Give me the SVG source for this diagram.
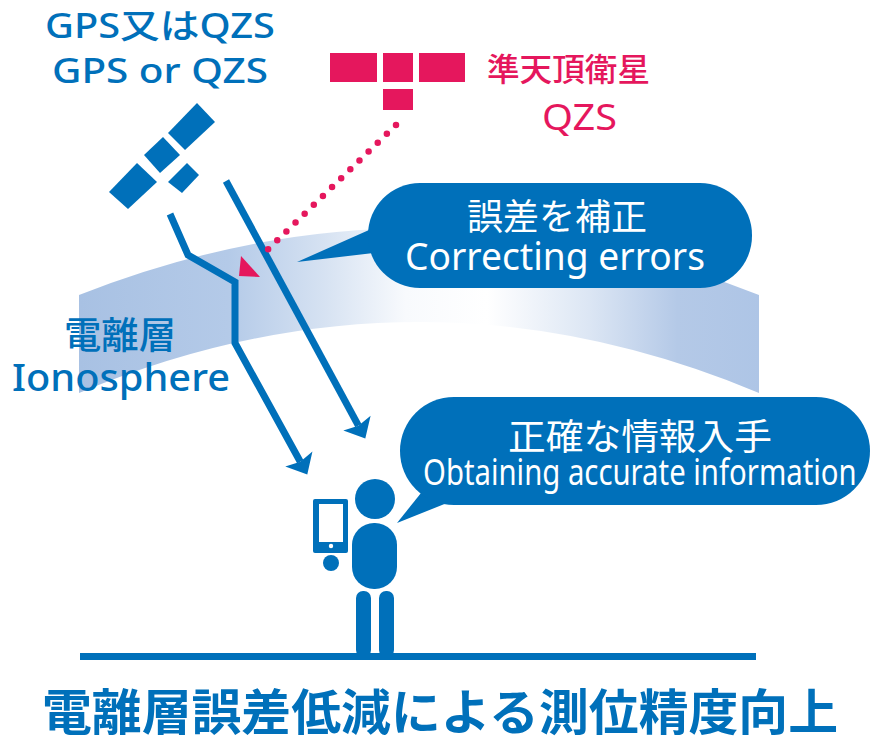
<svg xmlns="http://www.w3.org/2000/svg" width="875" height="741" viewBox="0 0 875 741">
  <style>
    .blue { fill: #0070BA; }
    .pink { fill: #E5175D; }
    .white { fill: #FFFFFF; }
    .txt { font-family: "Noto Sans", "Noto Sans CJK JP", sans-serif; }
    .signal { fill: none; stroke: #0070BA; stroke-width: 7; stroke-linejoin: miter; }
    .correction { fill: none; stroke: #E5175D; stroke-width: 6.5; stroke-linecap: round; stroke-dasharray: 0 12.73; }
  </style>
  <defs>
    <linearGradient id="iono-fill" gradientUnits="userSpaceOnUse" x1="79" y1="0" x2="759" y2="0">
      <stop offset="0" stop-color="#A8C1E3"/>
      <stop offset="0.22" stop-color="#B4CAE8"/>
      <stop offset="0.36" stop-color="#D6E2F2"/>
      <stop offset="0.48" stop-color="#F8FAFD"/>
      <stop offset="0.6" stop-color="#FFFFFF"/>
      <stop offset="0.75" stop-color="#DCE6F4"/>
      <stop offset="0.88" stop-color="#B4C9E7"/>
      <stop offset="1" stop-color="#AEC5E6"/>
    </linearGradient>
    <marker id="signal-head" viewBox="0 -16 18 32" refX="3" refY="0" markerWidth="18" markerHeight="32" markerUnits="userSpaceOnUse" orient="auto" overflow="visible">
      <path d="M0,-15.5 L17.5,0 L0,15.5 L3,0 Z" fill="#0070BA"/>
    </marker>
  </defs>

  <rect width="875" height="741" fill="#FFFFFF"/>

  <!-- ionosphere band -->
  <g id="ionosphere">
    <path d="M79,295 Q419,161 759,295 L759,393 Q419,251 79,393 Z" fill="url(#iono-fill)"/>
  </g>

  <g id="ionosphere-label" class="txt blue" font-weight="500">
    <text x="64" y="349" font-size="37" textLength="112" lengthAdjust="spacingAndGlyphs">電離層</text>
    <text x="12" y="391" font-size="38" textLength="218" lengthAdjust="spacingAndGlyphs">Ionosphere</text>
  </g>

  <!-- GPS / QZS satellite -->
  <g id="gps-satellite" class="blue">
    <polygon points="109,192 128,209 157,182 137,163"/>
    <polygon points="144,155 160,173 180,155 163,137"/>
    <polygon points="168,133 185,150 215,122 197,103"/>
    <polygon points="168,182 182,193 199,175 187,163"/>
  </g>

  <g id="gps-label" class="txt blue" font-weight="500">
    <text x="45" y="38" font-size="34" textLength="230" lengthAdjust="spacingAndGlyphs">GPS又はQZS</text>
    <text x="52" y="83" font-size="34" textLength="216" lengthAdjust="spacingAndGlyphs">GPS or QZS</text>
  </g>

  <!-- quasi-zenith satellite -->
  <g id="qzs-satellite" class="pink">
    <rect x="330" y="53" width="47" height="29"/>
    <rect x="383" y="53" width="30" height="29"/>
    <rect x="419" y="53" width="46" height="29"/>
    <rect x="383" y="89" width="30" height="21"/>
  </g>

  <g id="qzs-label" class="txt pink">
    <text x="487" y="81" font-size="32" font-weight="500" textLength="163" lengthAdjust="spacingAndGlyphs">準天頂衛星</text>
    <text x="542" y="130" font-size="37" textLength="75" lengthAdjust="spacingAndGlyphs">QZS</text>
  </g>

  <!-- signal paths -->
  <g id="connectors">
    <path class="signal" d="M170,214 L188,255 L235,282 L235,343 L300.3,461.7" marker-end="url(#signal-head)"/>
    <path class="signal" d="M226,181 L358.4,425.7" marker-end="url(#signal-head)"/>
    <path class="correction" d="M396,125 L259,258"/>
    <polygon class="pink" points="241,256 239,276 260,277"/>
  </g>

  <!-- callout: error correction -->
  <g id="callout-correct">
    <polygon class="blue" points="297,262 378,226 382,252"/>
    <rect class="blue" x="368" y="183" width="384" height="105" rx="52" ry="52"/>
    <text class="txt white" x="467" y="230" font-size="36" textLength="180" lengthAdjust="spacingAndGlyphs">誤差を補正</text>
    <text class="txt white" x="405" y="270" font-size="38" textLength="300" lengthAdjust="spacingAndGlyphs">Correcting errors</text>
  </g>

  <!-- callout: accurate information -->
  <g id="callout-obtain">
    <polygon class="blue" points="397,523 425,488 447,503"/>
    <rect class="blue" x="400" y="397" width="470" height="108" rx="54" ry="54"/>
    <text class="txt white" x="508" y="450" font-size="36" textLength="264" lengthAdjust="spacingAndGlyphs">正確な情報入手</text>
    <text class="txt white" transform="translate(423,485) scale(0.79,1)" x="0" y="0" font-size="37" textLength="549" lengthAdjust="spacingAndGlyphs">Obtaining accurate information</text>
  </g>

  <!-- user with handset -->
  <g id="person" class="blue">
    <circle cx="375" cy="499" r="20"/>
    <rect x="352" y="523" width="45" height="66" rx="22" ry="22"/>
    <rect x="356" y="591" width="15" height="66" rx="7" ry="7"/>
    <rect x="379" y="591" width="15" height="66" rx="7" ry="7"/>
    <rect x="313" y="499" width="35" height="54" rx="2"/>
    <rect class="white" x="319" y="504" width="24" height="38"/>
    <circle class="white" cx="331" cy="546" r="2.2"/>
    <circle cx="331" cy="563" r="8"/>
  </g>

  <g id="ground">
    <rect class="blue" x="80" y="653" width="676" height="7"/>
  </g>

  <g id="title">
    <text class="txt blue" x="42" y="730" font-size="49" font-weight="bold" textLength="796" lengthAdjust="spacingAndGlyphs">電離層誤差低減による測位精度向上</text>
  </g>
</svg>
